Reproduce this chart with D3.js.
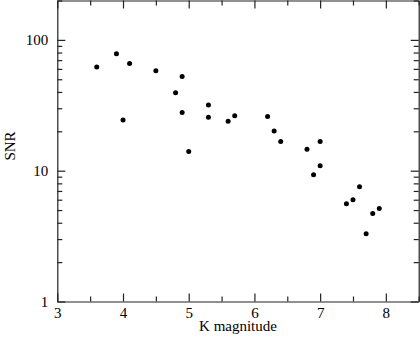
<!DOCTYPE html>
<html>
<head>
<meta charset="utf-8">
<script src="https://cdn.jsdelivr.net/npm/d3@7"></script>
<style>
html, body { margin: 0; padding: 0; background: #fff; }
svg { display: block; }
svg text { font-family: "Liberation Serif", serif !important; }
</style>
</head>
<body>
<script>
const kMag = [3.6, 3.9, 4.1, 4.0, 4.5, 4.9, 4.8, 4.9, 5.0, 5.3, 5.3, 5.6, 5.7,
              6.2, 6.3, 6.4, 6.8, 7.0, 7.0, 6.9, 7.6, 7.4, 7.5, 7.8, 7.9, 7.7];
const snr  = [62, 78.5, 66, 24.4, 58, 52.4, 39.5, 27.8, 14.0, 31.8, 25.6, 23.9, 26.3,
              26, 20.1, 16.7, 14.6, 16.7, 10.9, 9.3, 7.55, 5.6, 6.0, 4.7, 5.15, 3.3];
const xMajor = [3, 4, 5, 6, 7, 8];
const xMinor = [3.5, 4.5, 5.5, 6.5, 7.5, 8.5];
const yMajor = [1, 10, 100];
const yMinor = [2,3,4,5,6,7,8,9,20,30,40,50,60,70,80,90,200];
const xTitle = "K magnitude";
const yTitle = "SNR";

const W = 420, H = 344;
const L = 57.3, R = 418.7, T = 0.5, B = 301.5;

const svg = d3.select("body").append("svg").attr("width", W).attr("height", H);

const x = d3.scaleLinear().domain([3, 8.5]).range([L, R]);
const y = d3.scaleLog().domain([1, 200]).range([B, T]);

function styleAxis(g) {
  g.attr("font-family", "Liberation Serif").attr("font-size", 15);
  g.selectAll("path").attr("stroke", "#222").attr("stroke-width", 1.2);
  g.selectAll("line").attr("stroke", "#222").attr("stroke-width", 1.2);
  g.selectAll("text").attr("fill", "#000");
}

// bottom
svg.append("g").attr("transform", `translate(0,${B})`)
  .call(d3.axisBottom(x).tickValues(xMajor).tickFormat(d3.format("d")).tickSizeInner(-8).tickSizeOuter(0).tickPadding(6))
  .call(styleAxis);
svg.append("g").attr("transform", `translate(0,${B})`)
  .call(d3.axisBottom(x).tickValues(xMinor).tickFormat("").tickSizeInner(-5).tickSizeOuter(0))
  .call(styleAxis).call(g => g.select("path").remove());
// top
svg.append("g").attr("transform", `translate(0,${T})`)
  .call(d3.axisTop(x).tickValues(xMajor).tickFormat("").tickSizeInner(-8).tickSizeOuter(0))
  .call(styleAxis);
svg.append("g").attr("transform", `translate(0,${T})`)
  .call(d3.axisTop(x).tickValues(xMinor).tickFormat("").tickSizeInner(-5).tickSizeOuter(0))
  .call(styleAxis).call(g => g.select("path").remove());
// left
svg.append("g").attr("transform", `translate(${L},0)`)
  .call(d3.axisLeft(y).tickValues(yMajor).tickFormat(d3.format("d")).tickSizeInner(-8).tickSizeOuter(0).tickPadding(9))
  .call(styleAxis);
svg.append("g").attr("transform", `translate(${L},0)`)
  .call(d3.axisLeft(y).tickValues(yMinor).tickFormat("").tickSizeInner(-5).tickSizeOuter(0))
  .call(styleAxis).call(g => g.select("path").remove());
// right
svg.append("g").attr("transform", `translate(${R},0)`)
  .call(d3.axisRight(y).tickValues(yMajor).tickFormat("").tickSizeInner(-8).tickSizeOuter(0))
  .call(styleAxis);
svg.append("g").attr("transform", `translate(${R},0)`)
  .call(d3.axisRight(y).tickValues(yMinor).tickFormat("").tickSizeInner(-5).tickSizeOuter(0))
  .call(styleAxis).call(g => g.select("path").remove());

// points
svg.append("g").selectAll("circle")
  .data(kMag.map((k, i) => ({k, s: snr[i]})))
  .join("circle")
  .attr("cx", d => x(d.k))
  .attr("cy", d => y(d.s))
  .attr("r", 2.5)
  .attr("fill", "#000");

// titles
svg.append("text")
  .attr("x", (L + R) / 2).attr("y", 331)
  .attr("text-anchor", "middle")
  .attr("font-family", "Liberation Serif")
  .attr("font-size", 15)
  .text(xTitle);
svg.append("text")
  .attr("transform", `translate(15,146) rotate(-90)`)
  .attr("text-anchor", "middle")
  .attr("font-family", "Liberation Serif")
  .attr("font-size", 15)
  .text(yTitle);
</script>
</body>
</html>
